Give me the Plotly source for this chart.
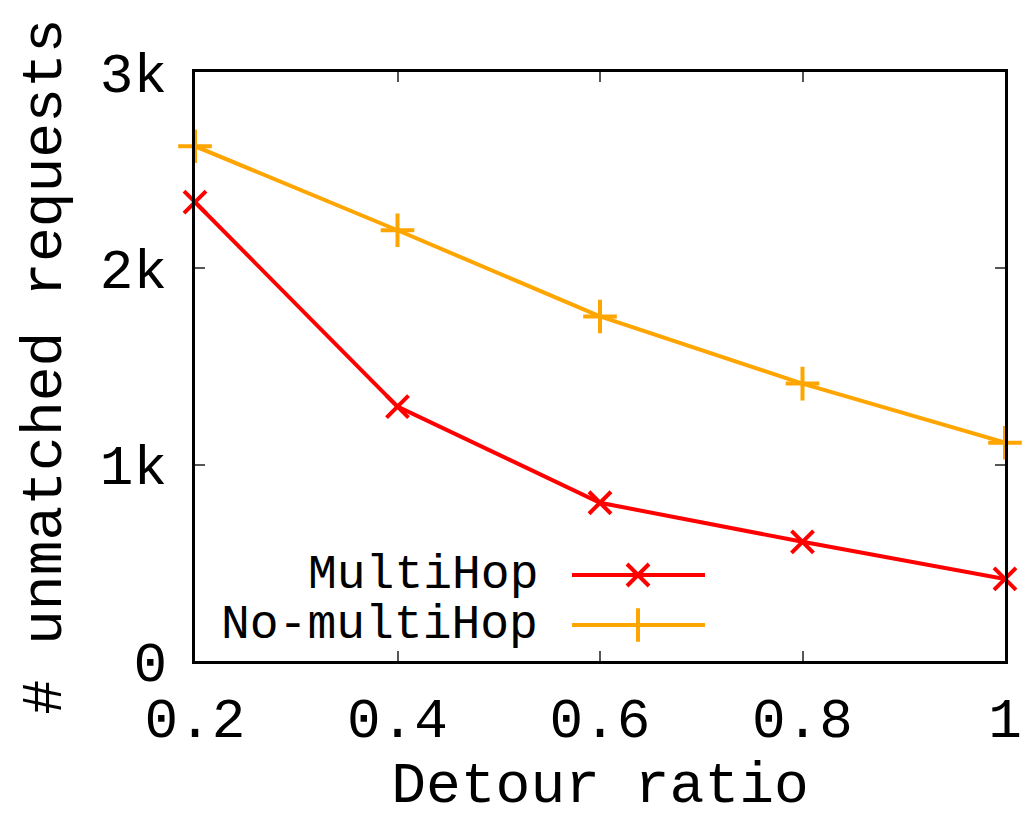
import plotly.graph_objects as go

detour_ratio = [0.2, 0.4, 0.6, 0.8, 1.0]
multihop = [2337, 1296, 806, 607, 418]
no_multihop = [2622, 2194, 1755, 1413, 1112]

x_ticks = [0.2, 0.4, 0.6, 0.8, 1.0]
x_ticktext = ["0.2", "0.4", "0.6", "0.8", "1"]
y_ticks = [0, 1000, 2000, 3000]
y_ticktext = ["0", "1k", "2k", "3k"]

series_names = ["MultiHop", "No-multiHop"]
RED = "#ff0000"
ORANGE = "#ffa500"
FONT = "Liberation Mono"

fig = go.Figure()
fig.add_trace(go.Scatter(
    x=detour_ratio, y=multihop, mode="lines+markers", name=series_names[0],
    line=dict(color=RED, width=4),
    marker=dict(symbol="x-thin-open", size=22, color=RED, line=dict(color=RED, width=4)),
    cliponaxis=False, showlegend=False))
fig.add_trace(go.Scatter(
    x=detour_ratio, y=no_multihop, mode="lines+markers", name=series_names[1],
    line=dict(color=ORANGE, width=4),
    marker=dict(symbol="cross-thin-open", size=24, color=ORANGE, line=dict(color=ORANGE, width=4)),
    cliponaxis=False, showlegend=False))

# manual gnuplot-style legend (text left of sample)
leg_y = [0.146, 0.061]
leg_colors = [RED, ORANGE]
leg_symbols = ["x-thin-open", "cross-thin-open"]
leg_sizes = [22, 24]
for name, yy, c, s, sz in zip(series_names, leg_y, leg_colors, leg_symbols, leg_sizes):
    fig.add_trace(go.Scatter(
        x=[0.4654, 0.6296], y=[yy, yy], xaxis="x2", yaxis="y2",
        mode="lines", line=dict(color=c, width=4), showlegend=False, hoverinfo="skip"))
    fig.add_trace(go.Scatter(
        x=[0.5469], y=[yy], xaxis="x2", yaxis="y2", mode="markers",
        marker=dict(symbol=s, size=sz, color=c, line=dict(color=c, width=4)),
        showlegend=False, hoverinfo="skip"))
    fig.add_annotation(x=0.426, y=yy, xref="x2", yref="y2", text=name,
                       showarrow=False, xanchor="right", yanchor="middle",
                       font=dict(family=FONT, size=48, color="black"))

fig.update_layout(
    width=1024, height=819,
    margin=dict(l=195, r=19, t=72, b=158, autoexpand=False),
    paper_bgcolor="white", plot_bgcolor="white",
    font=dict(family=FONT, color="black"),
    xaxis=dict(
        range=[0.2, 1.0], tickvals=x_ticks, ticktext=x_ticktext,
        ticks="inside", ticklen=10, tickwidth=1.5, tickcolor="#555",
        showline=True, linecolor="black", linewidth=2.5, mirror="allticks",
        showgrid=False, zeroline=False, ticklabeloverflow="allow", automargin=False,
        tickfont=dict(family=FONT, size=56), ticklabelstandoff=6,
        title=dict(text="Detour ratio", font=dict(family=FONT, size=58), standoff=32),
    ),
    yaxis=dict(
        range=[0, 3000], tickvals=y_ticks, ticktext=y_ticktext,
        ticks="inside", ticklen=10, tickwidth=1.5, tickcolor="#555",
        showline=True, linecolor="black", linewidth=2.5, mirror="allticks",
        showgrid=False, zeroline=False, automargin=False,
        tickfont=dict(family=FONT, size=56),
        ticklabelstandoff=14,
        title=dict(text="# unmatched requests", font=dict(family=FONT, size=58), standoff=20),
    ),
    xaxis2=dict(range=[0, 1], overlaying="x", visible=False, domain=[0, 1]),
    yaxis2=dict(range=[0, 1], overlaying="y", visible=False),
)

fig.write_html("out.html")
